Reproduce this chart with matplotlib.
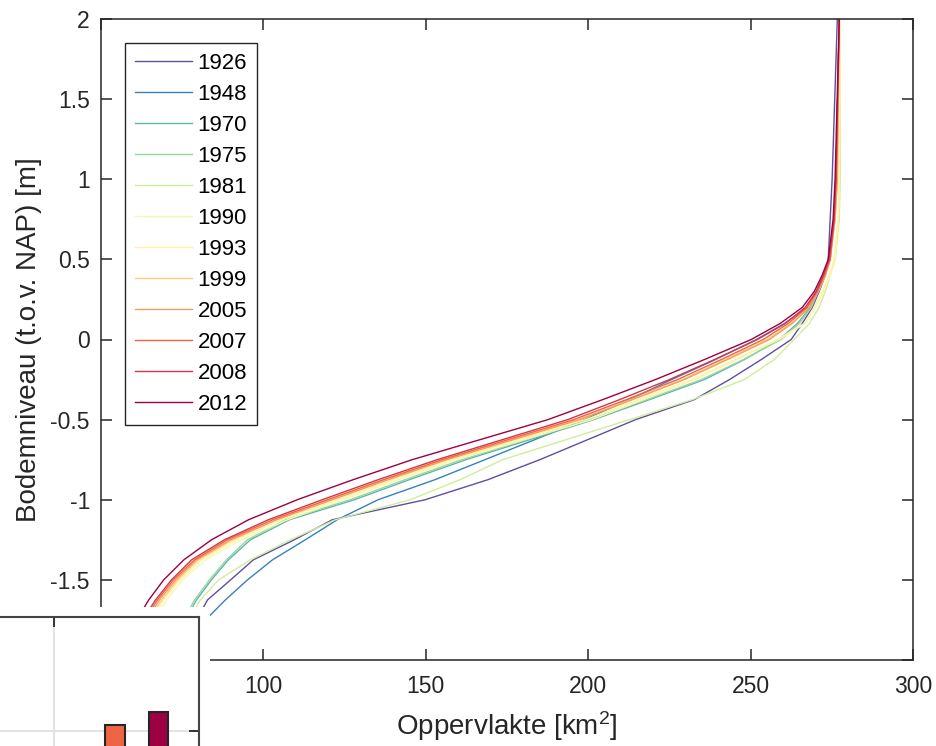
import numpy as np
import matplotlib.pyplot as plt
from matplotlib.patches import Rectangle
from matplotlib.ticker import FuncFormatter

plt.rcParams['font.family'] = ['Liberation Sans', 'DejaVu Sans']
plt.rcParams['axes.unicode_minus'] = False
plt.rcParams['mathtext.default'] = 'regular'

levels = [-2.0, -1.75, -1.625, -1.5, -1.375, -1.25, -1.125, -1.0, -0.875, -0.75,
          -0.5, -0.375, -0.25, -0.125, 0.0, 0.1, 0.2, 0.3, 0.4, 0.5, 0.75, 1.0, 2.0]

# oppervlakte [km2] onder elk niveau, per jaar
area_1926 = [74.5, 79.4, 82.8, 89.9, 96.9, 109.5, 121.2, 149.8, 169.1, 185.1,
             214.6, 232.7, 243.5, 253.3, 262.5, 265.9, 269.0, 271.1, 273.0, 273.9, 274.5, 275.1, 276.7]
area_1948 = [77.6, 82.2, 88.3, 95.1, 102.8, 112.9, 122.7, 135.3, 152.8, 168.2,
             198.9, 212.7, 225.7, 239.2, 251.8, 260.4, 267.4, 270.2, 272.4, 274.2, 275.7, 276.3, 277.3]
area_1970 = [72.0, 76.0, 79.4, 84.0, 89.2, 96.0, 108.0, 128.0, 144.9, 162.4,
             201.7, 218.9, 235.8, 248.1, 258.8, 264.4, 268.4, 270.8, 272.7, 274.2, 275.7, 276.3, 277.3]
area_1975 = [71.4, 75.4, 78.8, 83.4, 88.6, 95.1, 106.8, 126.7, 143.6, 161.1,
             200.5, 218.0, 234.9, 247.8, 259.4, 265.0, 268.7, 270.8, 273.0, 274.5, 275.7, 276.3, 277.3]
area_1981 = [73.0, 77.0, 80.6, 86.2, 96.0, 108.3, 122.1, 145.2, 160.5, 173.7,
             212.7, 232.1, 248.1, 257.3, 263.4, 268.1, 271.1, 273.0, 274.5, 276.0, 277.3, 277.6, 277.6]
area_1990 = [61.3, 66.2, 70.2, 75.1, 82.2, 93.2, 107.4, 124.3, 141.5, 159.6,
             201.1, 217.1, 232.7, 245.9, 258.8, 266.8, 269.9, 272.4, 274.5, 276.0, 277.0, 277.3, 277.6]
area_1993 = [60.7, 65.3, 69.3, 74.2, 81.0, 91.7, 105.5, 122.7, 139.9, 158.1,
             199.2, 215.8, 231.8, 245.3, 258.2, 266.5, 269.6, 272.0, 274.2, 275.7, 277.0, 277.3, 277.6]
area_1999 = [60.1, 64.7, 68.7, 73.6, 80.0, 90.5, 104.0, 120.6, 137.8, 155.9,
             196.8, 213.1, 229.0, 242.2, 255.1, 262.5, 267.7, 270.8, 273.0, 274.5, 276.0, 276.7, 277.3]
area_2005 = [59.4, 64.1, 68.0, 73.0, 79.4, 89.9, 104.0, 121.2, 138.4, 156.5,
             197.4, 213.7, 229.6, 242.9, 255.8, 262.8, 268.1, 270.8, 273.0, 274.5, 276.0, 276.7, 277.3]
area_2007 = [58.8, 63.4, 67.4, 72.3, 78.8, 88.9, 102.8, 119.7, 136.9, 155.0,
             195.5, 211.8, 227.5, 241.0, 253.9, 261.6, 267.4, 270.5, 272.7, 274.5, 275.7, 276.3, 277.3]
area_2008 = [58.2, 62.8, 66.8, 71.7, 77.9, 88.0, 101.5, 118.1, 135.3, 153.5,
             193.7, 209.7, 225.0, 238.9, 252.1, 260.7, 266.8, 270.2, 272.4, 274.2, 275.7, 276.3, 277.3]
area_2012 = [56.7, 61.0, 64.7, 69.3, 75.5, 84.0, 95.4, 110.4, 127.6, 145.8,
             187.6, 204.5, 220.7, 235.8, 250.2, 259.1, 265.9, 269.6, 272.0, 273.9, 275.4, 276.0, 277.3]

years = ['1926', '1948', '1970', '1975', '1981', '1990', '1993', '1999', '2005', '2007', '2008', '2012']
areas = [area_1926, area_1948, area_1970, area_1975, area_1981, area_1990,
         area_1993, area_1999, area_2005, area_2007, area_2008, area_2012]

# inzet (grotendeels buiten beeld): staafjes
inset_years = [2007, 2012]
inset_values = [1.03, 1.10]

W, H = 936, 746
dark = '#262626'


def px_rect(x0, y0, x1, y1):
    return [x0 / W, 1 - y1 / H, (x1 - x0) / W, (y1 - y0) / H]


fig = plt.figure(figsize=(W / 100, H / 100), dpi=100)
ax = fig.add_axes(px_rect(101, 19, 913, 660))

colors = plt.cm.Spectral_r(np.linspace(0, 1, len(years)))
for yr, a, c in zip(years, areas, colors):
    ax.plot(a, levels, color=c, lw=1.0, label=yr)

ax.set_xlim(50, 300)
ax.set_ylim(-2, 2)
ax.set_xticks([50, 100, 150, 200, 250, 300])
ax.set_yticks(np.arange(-2, 2.01, 0.5))
ax.yaxis.set_major_formatter(FuncFormatter(lambda v, p: '%g' % v))
ax.tick_params(direction='in', top=True, right=True, length=8, width=1.1,
               labelsize=16.5, colors=dark, labelcolor=dark)
ax.tick_params(axis='x', pad=11)
ax.tick_params(axis='y', pad=8)
for s in ax.spines.values():
    s.set_color(dark)
    s.set_linewidth(1.1)

ax.set_xlabel('Oppervlakte [km$^{2}$]', fontsize=20, color=dark, labelpad=8)
ax.set_ylabel('Bodemniveau (t.o.v. NAP) [m]', fontsize=20, color=dark, labelpad=6)

leg = ax.legend(loc='upper left', bbox_to_anchor=(24 / 812, 1 - 24 / 641), borderaxespad=0,
                fontsize=16, handlelength=2.57, handletextpad=0.25, labelspacing=0.45,
                borderpad=0.45, fancybox=False, framealpha=1, edgecolor=dark)
leg.get_frame().set_linewidth(1.0)

# witte marge rond de inzet
fig.add_artist(Rectangle((0, 0), 210 / W, (H - 607) / H, transform=fig.transFigure,
                         facecolor='white', edgecolor='none', zorder=2))

ins = fig.add_axes(px_rect(-200, 617, 199, 921), zorder=3)
bar_colors = [colors[years.index(str(y))] for y in inset_years]
ins.bar(inset_years, inset_values, width=2.2, color=bar_colors, edgecolor=dark, linewidth=1.5, zorder=3)
ins.set_xlim(1970.8, 2016.65)
ins.set_ylim(0, 1.6)
ins.set_xticks([1980, 2000])
ins.set_yticks([0, 1])
ins.grid(True, color='#dedede', lw=1.2)
ins.set_axisbelow(True)
ins.tick_params(direction='in', top=True, right=True, length=7, width=1.3, colors=dark,
                labelbottom=False, labelleft=False)
for s in ins.spines.values():
    s.set_color('#444444')
    s.set_linewidth(1.5)

fig.savefig('out.png', dpi=100)
